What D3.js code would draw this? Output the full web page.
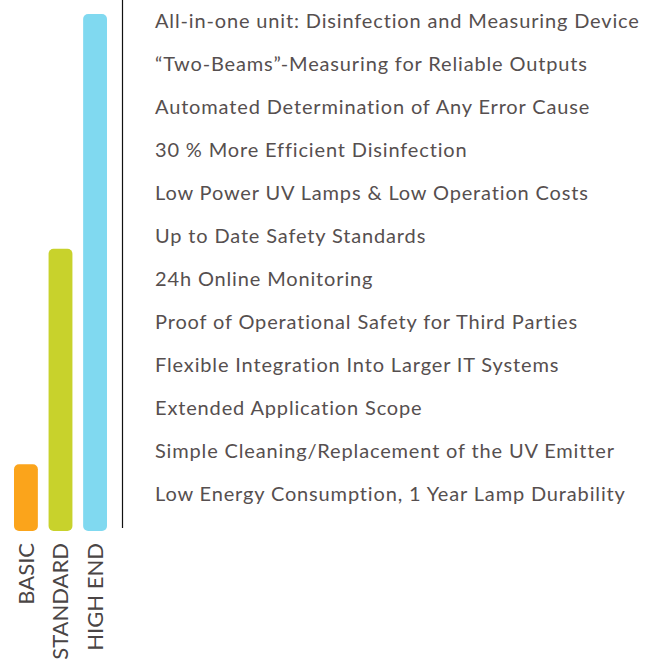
<!DOCTYPE html>
<html lang="en">
  <head>
    <meta charset="utf-8">
    <title>Product tiers</title>
    <script src="https://d3js.org/d3.v7.min.js"></script>
    <style>
      body { margin: 0; background: #fff; }
      text { font-family: Lato, "Open Sans", sans-serif; fill: #564f4f; }
    </style>
  </head>
  <body>
    <script>
      var width = 645,
          height = 668;

      var tiers = ["BASIC", "STANDARD", "HIGH END"];
      var tierValues = [1.55, 6.55, 12];
      var tierColors = ["#fba41b", "#c8d22c", "#80d9f0"];

      // feature list, top to bottom
      var features = [
        "All-in-one unit: Disinfection and Measuring Device",
        "\u201cTwo-Beams\u201d-Measuring for Reliable Outputs",
        "Automated Determination of Any Error Cause",
        "30 % More Efficient Disinfection",
        "Low Power UV Lamps & Low Operation Costs",
        "Up to Date Safety Standards",
        "24h Online Monitoring",
        "Proof of Operational Safety for Third Parties",
        "Flexible  Integration Into Larger IT Systems",
        "Extended Application Scope",
        "Simple Cleaning/Replacement of the UV Emitter",
        "Low Energy Consumption, 1 Year Lamp Durability"
      ];

      var svg = d3.select("body").append("svg")
                  .attr("width", width)
                  .attr("height", height);

      var x = d3.scaleBand()
                .domain(tiers)
                .range([14, 107])
                .paddingInner(0.31)
                .paddingOuter(0);

      var y = d3.scaleLinear()
                .domain([0, 12])
                .range([531, 14]);

      // bars
      svg.append("g")
         .selectAll("rect")
         .data(tiers)
         .join("rect")
           .attr("x", d => x(d))
           .attr("y", (d, i) => y(tierValues[i]))
           .attr("width", x.bandwidth())
           .attr("height", (d, i) => y(0) - y(tierValues[i]))
           .attr("rx", 5)
           .attr("fill", (d, i) => tierColors[i]);

      // tier labels, rotated under the bars
      svg.append("g")
         .selectAll("text")
         .data(tiers)
         .join("text")
           .attr("transform", d => "translate(" + (x(d) + x.bandwidth() / 2) + ",543) rotate(-90)")
           .attr("dy", "0.36em")
           .attr("text-anchor", "end")
           .style("font-size", "22px")
           .style("fill", "#4a4545")
           .text(d => d);

      // divider
      svg.append("line")
         .attr("x1", 122.5).attr("x2", 122.5)
         .attr("y1", 0).attr("y2", 528)
         .attr("stroke", "#111")
         .attr("stroke-width", 1.2);

      // feature rows
      var row = d3.scalePoint()
                  .domain(d3.range(features.length))
                  .range([28, 501]);

      svg.append("g")
         .selectAll("text")
         .data(features)
         .join("text")
           .attr("x", 155)
           .attr("y", (d, i) => row(i))
           .style("font-size", "20px")
           .style("letter-spacing", "0.85px")
           .text(d => d);
    </script>
  </body>
</html>
